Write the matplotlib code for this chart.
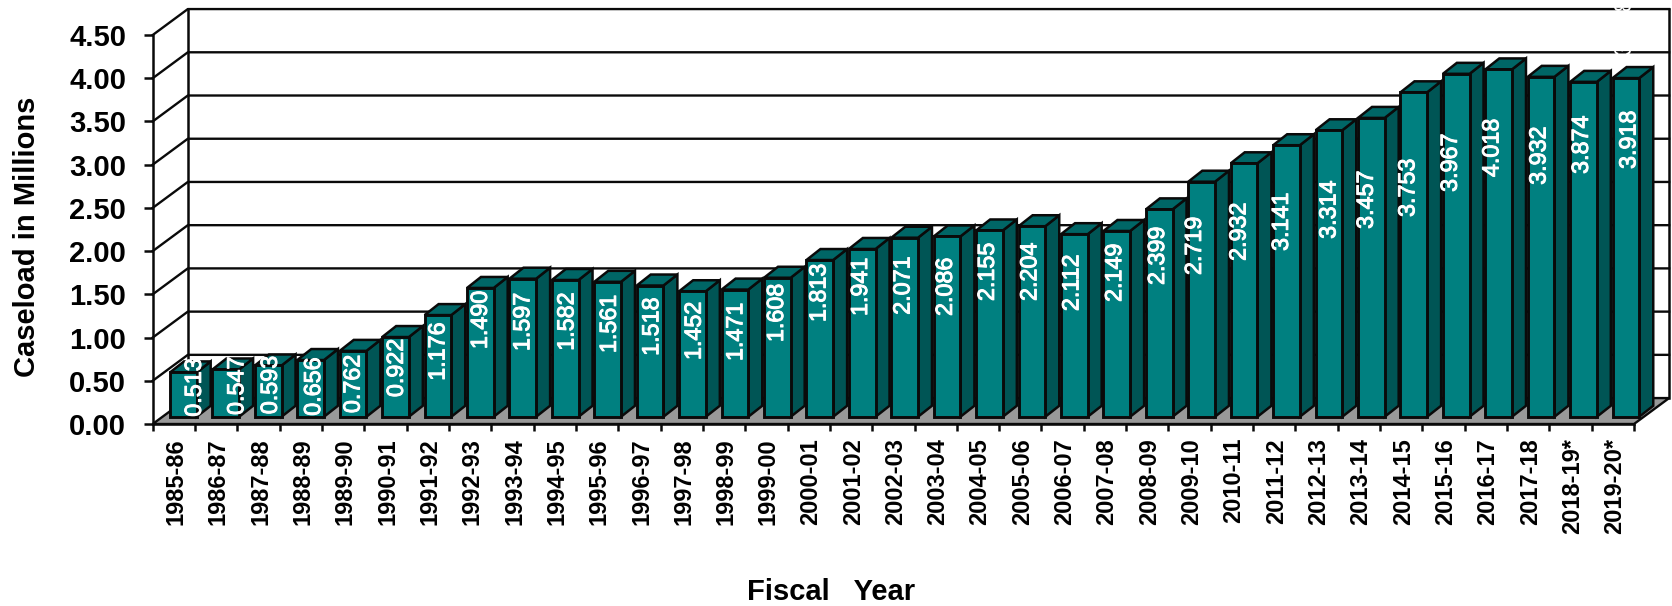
import matplotlib
matplotlib.use("Agg")
import matplotlib.pyplot as plt
import matplotlib.patheffects as pe
from matplotlib.patches import Polygon

plt.rcParams['font.family'] = ['Liberation Sans', 'DejaVu Sans']

fiscal_years = ["1985-86", "1986-87", "1987-88", "1988-89", "1989-90", "1990-91", "1991-92",
                "1992-93", "1993-94", "1994-95", "1995-96", "1996-97", "1997-98", "1998-99",
                "1999-00", "2000-01", "2001-02", "2002-03", "2003-04", "2004-05", "2005-06",
                "2006-07", "2007-08", "2008-09", "2009-10", "2010-11", "2011-12", "2012-13",
                "2013-14", "2014-15", "2015-16", "2016-17", "2017-18", "2018-19*", "2019-20*"]
caseload = [0.513, 0.547, 0.593, 0.656, 0.762, 0.922, 1.176, 1.490, 1.597, 1.582, 1.561, 1.518,
            1.452, 1.471, 1.608, 1.813, 1.941, 2.071, 2.086, 2.155, 2.204, 2.112, 2.149, 2.399,
            2.719, 2.932, 3.141, 3.314, 3.457, 3.753, 3.967, 4.018, 3.932, 3.874, 3.918]
y_ticks = [0.0, 0.5, 1.0, 1.5, 2.0, 2.5, 3.0, 3.5, 4.0, 4.5]

# the value labels were placed by hand in the original, so they get their own heights and nudges
label_height = [0.422, 0.442, 0.451, 0.432, 0.463, 0.648, 0.837, 1.204, 1.181, 1.184, 1.157, 1.126,
                1.076, 1.065, 1.285, 1.516, 1.586, 1.601, 1.586, 1.759, 1.759, 1.632, 1.748, 1.944,
                2.060, 2.222, 2.338, 2.477, 2.593, 2.731, 3.021, 3.194, 3.102, 3.229, 3.287]
label_nudge = [0.26, 0.26, 0.05, 0.07, 0.0, 0.02, 0.0, 0.0, 0.0, 0.04, 0.04, 0.04,
               0.04, 0.02, -0.02, -0.02, -0.04, -0.04, -0.04, -0.05, -0.05, -0.06, -0.05, -0.04,
               -0.17, -0.12, -0.12, 0.0, -0.12, -0.14, -0.14, -0.16, -0.05, -0.05, 0.07]

# depth of the fake 3D box and of each bar, in data units
wall_dx, wall_dy = 0.83, 0.30
bar_dx, bar_dy = 0.33, 0.127
bar_base = 0.084
bar_width = 0.63

FRONT = "#008080"
SIDE = "#005555"
TOP = "#006666"
LINE = "#0a0a0a"

fig = plt.figure(figsize=(16.72, 6.06), dpi=100)
ax = fig.add_axes([152.7 / 1672, 182 / 606, 1481.3 / 1672, 389 / 606])
ax.set_xlim(0, 35)
ax.set_ylim(0, 4.5)
ax.patch.set_alpha(0)

n = len(caseload)


def bar_left(i):
    return i * 1.0025 + 0.41


# floor and back wall
ax.add_patch(Polygon([(0, 0), (n, 0), (n + wall_dx, wall_dy), (wall_dx, wall_dy)],
                     closed=True, fc="#999999", ec=LINE, lw=1.7, clip_on=False, zorder=1))
for v in y_ticks[1:]:
    ax.plot([0, wall_dx, n + wall_dx], [v, v + wall_dy, v + wall_dy],
            color=LINE, lw=1.7, clip_on=False, zorder=1)
ax.plot([wall_dx, wall_dx], [wall_dy, 4.5 + wall_dy], color=LINE, lw=1.8, clip_on=False, zorder=1)
ax.plot([n + wall_dx, n + wall_dx], [wall_dy, 4.5 + wall_dy], color=LINE, lw=1.8, clip_on=False, zorder=1)

# bars, left to right so each one covers the side of the one before
for i, v in enumerate(caseload):
    left = bar_left(i)
    right = left + bar_width
    top = bar_base + v
    z = 3 + i
    ax.add_patch(Polygon([(right, bar_base), (right + bar_dx, bar_base + bar_dy),
                          (right + bar_dx, top + bar_dy), (right, top)],
                         closed=True, fc=SIDE, ec=LINE, lw=1.8, clip_on=False, zorder=z))
    ax.add_patch(Polygon([(left, top), (left + bar_dx, top + bar_dy),
                          (right + bar_dx, top + bar_dy), (right, top)],
                         closed=True, fc=TOP, ec=LINE, lw=1.8, clip_on=False, zorder=z))
    ax.bar(left, v, width=bar_width, bottom=bar_base, align="edge",
           color=FRONT, edgecolor=LINE, linewidth=2.1, zorder=z, clip_on=False)

thicker = [pe.withStroke(linewidth=0.7, foreground="white")]
for i, v in enumerate(caseload):
    ax.text(bar_left(i) + bar_width / 2 + label_nudge[i], label_height[i], f"{v:.3f}",
            rotation=90, ha="center", va="center", color="white", fontsize=16.8, zorder=60,
            path_effects=thicker)

# stray white copy of the last label, only visible where it cuts the top gridlines
ax.text(34.78, 4.6, f"{caseload[-1]:.3f}", rotation=90, ha="center", va="center",
        color="white", fontsize=16.5, zorder=60, clip_on=False)

for side in ["top", "right"]:
    ax.spines[side].set_visible(False)
for side in ["left", "bottom"]:
    ax.spines[side].set_linewidth(1.8)
    ax.spines[side].set_color(LINE)
    ax.spines[side].set_zorder(2)

ax.set_yticks(y_ticks)
ax.set_yticklabels([f"{v:.2f}" for v in y_ticks], fontsize=21, fontweight="bold")
ax.tick_params(axis="y", length=6.2, width=1.8, pad=13, color=LINE)

ax.set_xticks(range(n + 1))
ax.set_xticklabels([])
ax.tick_params(axis="x", which="major", length=5, width=1.8, color=LINE)
ax.set_xticks([i + 0.55 for i in range(n)], minor=True)
ax.set_xticklabels(fiscal_years, minor=True, rotation=90, fontsize=17, fontweight="bold")
ax.tick_params(axis="x", which="minor", length=0, pad=10)

ax.set_ylabel("Caseload in Millions", fontsize=21, fontweight="bold")
ax.yaxis.set_label_coords((41 - 152.7) / 1481.3, (424 - 237) / 389)
ax.set_xlabel("Fiscal   Year", fontsize=21, fontweight="bold")
ax.xaxis.set_label_coords((831 - 152.7) / 1481.3, (424 - 600) / 389)
ax.xaxis.label.set_verticalalignment("baseline")

fig.savefig("out.png", dpi=100)
